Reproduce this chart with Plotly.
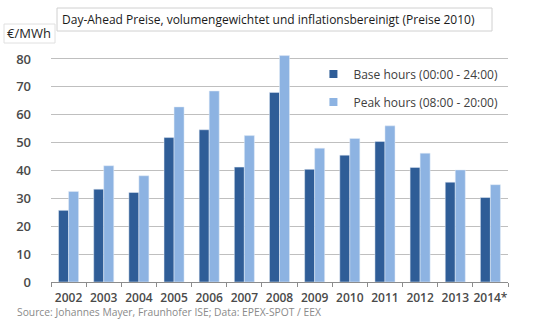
import plotly.graph_objects as go

years = ["2002", "2003", "2004", "2005", "2006", "2007", "2008", "2009",
         "2010", "2011", "2012", "2013", "2014*"]
base = [25.7, 33.3, 32.1, 51.8, 54.6, 41.2, 68.0, 40.4, 45.5, 50.4, 41.1, 35.8, 30.3]
peak = [32.5, 41.7, 38.1, 62.8, 68.5, 52.5, 81.2, 48.0, 51.5, 56.0, 46.2, 40.2, 34.9]
yticks = [0, 10, 20, 30, 40, 50, 60, 70, 80]
names = ["Base hours (00:00 - 24:00)", "Peak hours (08:00 - 20:00)"]
colors = ["#2f5d97", "#8db3e2"]

FONT = "Open Sans"
fig = go.Figure()
fig.add_bar(x=years, y=base, name=names[0], marker_color=colors[0], showlegend=False)
fig.add_bar(x=years, y=peak, name=names[1], marker_color=colors[1], showlegend=False)
# legend entries with small square markers
fig.add_scatter(x=[None], y=[None], mode="markers", name=names[0], legend="legend",
                marker=dict(symbol="square", size=8, color=colors[0]))
fig.add_scatter(x=[None], y=[None], mode="markers", name=names[1], legend="legend2",
                marker=dict(symbol="square", size=8, color=colors[1]))

leg = dict(xanchor="right", yanchor="middle", bgcolor="rgba(0,0,0,0)",
           font=dict(size=12, color="#404040", family=FONT), itemwidth=30)

fig.update_layout(
    width=540, height=329,
    margin=dict(l=51, r=32, t=45, b=47),
    paper_bgcolor="white", plot_bgcolor="white",
    barmode="group", bargap=0.43, bargroupgap=0,
    font=dict(family=FONT, color="#404040"),
    legend=dict(x=0.99, y=(282 - 74) / 237, **leg),
    legend2=dict(x=0.99, y=(282 - 102) / 237, **leg),
    xaxis=dict(showline=True, linecolor="#8c8c8c", linewidth=1, tickangle=0,
               ticks="outside", tickson="boundaries", ticklen=4, tickcolor="#8c8c8c",
               ticklabelstandoff=5,
               tickfont=dict(size=12, color="#4a4a4a", weight=600)),
    yaxis=dict(range=[0, 85], tickvals=yticks, showgrid=True, gridcolor="#bfbfbf",
               zeroline=False, showline=False, ticks="",
               tickfont=dict(size=13, color="#4a4a4a", weight=600), ticklabelstandoff=19),
)

# title box
fig.add_shape(type="rect", xref="paper", yref="paper",
              x0=(57 - 51) / 457, x1=(492 - 51) / 457,
              y0=(282 - 31) / 237, y1=(282 - 8) / 237,
              line=dict(color="#d0d0d0", width=1), fillcolor="white", layer="above")
fig.add_annotation(xref="paper", yref="paper", x=(60 - 51) / 457, y=(282 - 19) / 237,
                   xanchor="left", yanchor="middle", showarrow=False,
                   text="Day-Ahead Preise, volumengewichtet und inflationsbereinigt (Preise 2010)",
                   font=dict(size=12, color="#1a1a1a", family=FONT))
# unit box
fig.add_shape(type="rect", xref="paper", yref="paper",
              x0=(4 - 51) / 457, x1=(55 - 51) / 457,
              y0=(282 - 43) / 237, y1=(282 - 24) / 237,
              line=dict(color="#e0e0e0", width=1), fillcolor="white", layer="above")
fig.add_annotation(xref="paper", yref="paper", x=(29 - 51) / 457, y=(282 - 33) / 237,
                   xanchor="center", yanchor="middle", showarrow=False,
                   text="€/MWh", font=dict(size=13, color="#262626", family=FONT))
# source
fig.add_annotation(xref="paper", yref="paper", x=(15 - 51) / 457, y=(282 - 312) / 237,
                   xanchor="left", yanchor="middle", showarrow=False,
                   text="Source: Johannes Mayer, Fraunhofer ISE; Data: EPEX-SPOT / EEX",
                   font=dict(size=10.3, color="#8a8a8a", family=FONT))

fig.write_html("out.html")
